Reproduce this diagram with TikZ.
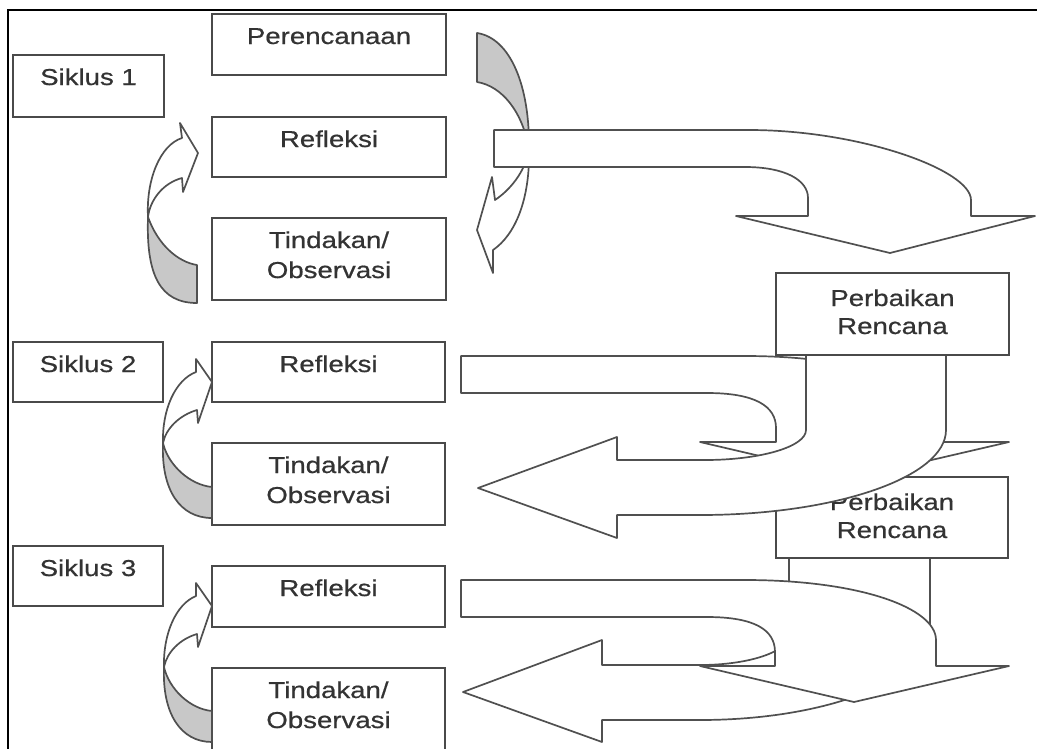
\documentclass[tikz,border=0pt]{standalone}
\usepackage{fontspec}
\setmainfont{Liberation Sans}[FakeStretch=1.2,FakeBold=0.6]
\definecolor{boxc}{HTML}{4A4A4A}
\definecolor{txtc}{HTML}{333333}
\definecolor{arrc}{HTML}{505050}
\definecolor{grayc}{HTML}{C8C8C8}
\begin{document}
\begin{tikzpicture}[x=1pt,y=-1pt,
  box/.style={draw=boxc, line width=2pt, fill=white, inner sep=0pt, outer sep=0pt, anchor=north west},
  lbl/.style={text=txtc, font=\fontsize{23}{28}\selectfont, anchor=base, inner sep=0pt},
  arr/.style={draw=arrc, line width=1.7pt, fill=white, line join=round},
  garr/.style={arr, fill=grayc}]
\useasboundingbox (0,0) rectangle (1037,748);
\fill[white] (0,0) rectangle (1037,748);
\draw[black, line width=2.2pt] (8,760) -- (8,10) -- (1045,10);

% left column boxes
\node[box, minimum width=151pt, minimum height=62pt] (s1) at (13,55) {};
\node[lbl] (s1t) at (88.5,85) {Siklus 1};
\node[box, minimum width=234pt, minimum height=61pt] (per) at (212,14) {};
\node[lbl] (pert) at (329,44) {Perencanaan};
\node[box, minimum width=234pt, minimum height=60pt] (r1) at (212,117) {};
\node[lbl] (r1t) at (329,147) {Refleksi};
\node[box, minimum width=234pt, minimum height=82pt] (t1) at (212,218) {};
\node[lbl] (t1a) at (329,248) {Tindakan/};
\node[lbl] (t1b) at (329,278) {Observasi};

\node[box, minimum width=150pt, minimum height=60pt] (s2) at (13,342) {};
\node[lbl] (s2t) at (88,372) {Siklus 2};
\node[box, minimum width=233pt, minimum height=60pt] (r2) at (212,342) {};
\node[lbl] (r2t) at (328.5,372) {Refleksi};
\node[box, minimum width=233pt, minimum height=82pt] (t2) at (212,443) {};
\node[lbl] (t2a) at (328.5,473) {Tindakan/};
\node[lbl] (t2b) at (328.5,503) {Observasi};

\node[box, minimum width=150pt, minimum height=60pt] (s3) at (13,546) {};
\node[lbl] (s3t) at (88,576) {Siklus 3};
\node[box, minimum width=233pt, minimum height=61pt] (r3) at (212,566) {};
\node[lbl] (r3t) at (328.5,596) {Refleksi};
\node[box, minimum width=233pt, minimum height=82pt] (t3) at (212,668) {};
\node[lbl] (t3a) at (328.5,698) {Tindakan/};
\node[lbl] (t3b) at (328.5,728) {Observasi};

% Siklus 1 right curved arrow
\draw[garr] (477,33) .. controls (510,38) and (530,85) .. (529,150) .. controls (523,112) and (502,86) .. (477,82) -- cycle;
\draw[arr] (529,150) .. controls (525,172) and (510,190) .. (495,200) -- (492,177) -- (477,230) -- (493,273) -- (493,250) .. controls (515,235) and (530,200) .. (529,150) -- cycle;

% Siklus 1 big arrow
\draw[arr] (494,130) -- (749,130) .. controls (860,130) and (971,170) .. (971,200) -- (971,216) -- (1035,216) -- (890,253) -- (736,216) -- (808,216) -- (808,198) .. controls (808,180) and (785,167) .. (745,167) -- (494,167) -- cycle;

% left curved arrows
\draw[garr] (148,217) .. controls (146,275) and (160,303) .. (197,303) -- (197,265) .. controls (178,262) and (158,245) .. (148,217) -- cycle;
\draw[arr] (148,217) .. controls (146,180) and (160,145) .. (182,138) -- (180,123) -- (198,153) -- (183,192) -- (182,178) .. controls (163,183) and (150,200) .. (148,217) -- cycle;

\draw[garr] (163,443) .. controls (161,490) and (180,518) .. (212,518) -- (212,487) .. controls (190,485) and (168,465) .. (163,443) -- cycle;
\draw[arr] (163,443) .. controls (162,410) and (175,380) .. (196,372) -- (196,359) -- (212,382) -- (198,423) -- (197,410) .. controls (180,415) and (166,428) .. (163,443) -- cycle;

\draw[garr] (164,667) .. controls (162,714) and (181,742) .. (212,742) -- (212,711) .. controls (190,709) and (169,689) .. (164,667) -- cycle;
\draw[arr] (164,667) .. controls (163,634) and (176,604) .. (196,596) -- (196,583) -- (212,606) -- (198,647) -- (197,634) .. controls (180,639) and (167,652) .. (164,667) -- cycle;

% Perbaikan Rencana 2
\node[box, minimum width=232pt, minimum height=81pt] (pr2) at (776,477) {};
\node[lbl] (pr2a) at (892,510) {Perbaikan};
\node[lbl] (pr2b) at (892,538) {Rencana};

% Siklus 3 return arrow (under) and down arrow
\draw[arr] (789,559) -- (789,635) .. controls (789,651.6) and (749,665) .. (700,665) -- (602,665) -- (602,640) -- (463,692) -- (602,742) -- (602,720) -- (700,720) .. controls (827,720) and (930,679.7) .. (930,630) -- (930,559);
\draw[arr] (461,580) -- (745,580) .. controls (860,580) and (936,608) .. (936,640) -- (936,666) -- (1009,666) -- (854,702) -- (700,666) -- (775,666) -- (775,652) .. controls (775,630) and (755,617) .. (707,617) -- (461,617) -- cycle;

% Siklus 2 down arrow and return arrow (over)
\draw[arr] (461,356) -- (745,356) .. controls (860,356) and (936,384) .. (936,416) -- (936,442) -- (1009,442) -- (854,478) -- (700,442) -- (776,442) -- (776,428) .. controls (776,406) and (755,393) .. (707,393) -- (461,393) -- cycle;
\draw[arr] (806,355) -- (806,430) .. controls (806,446.6) and (760.8,460) .. (705,460) -- (617,460) -- (617,437) -- (478,488) -- (617,538) -- (617,515) -- (700,515) .. controls (836,515) and (946,477) .. (946,430) -- (946,355);

% Perbaikan Rencana 1
\node[box, minimum width=233pt, minimum height=82pt] (pr1) at (776,273) {};
\node[lbl] (pr1a) at (892.5,306) {Perbaikan};
\node[lbl] (pr1b) at (892.5,334) {Rencana};
\end{tikzpicture}
\end{document}
